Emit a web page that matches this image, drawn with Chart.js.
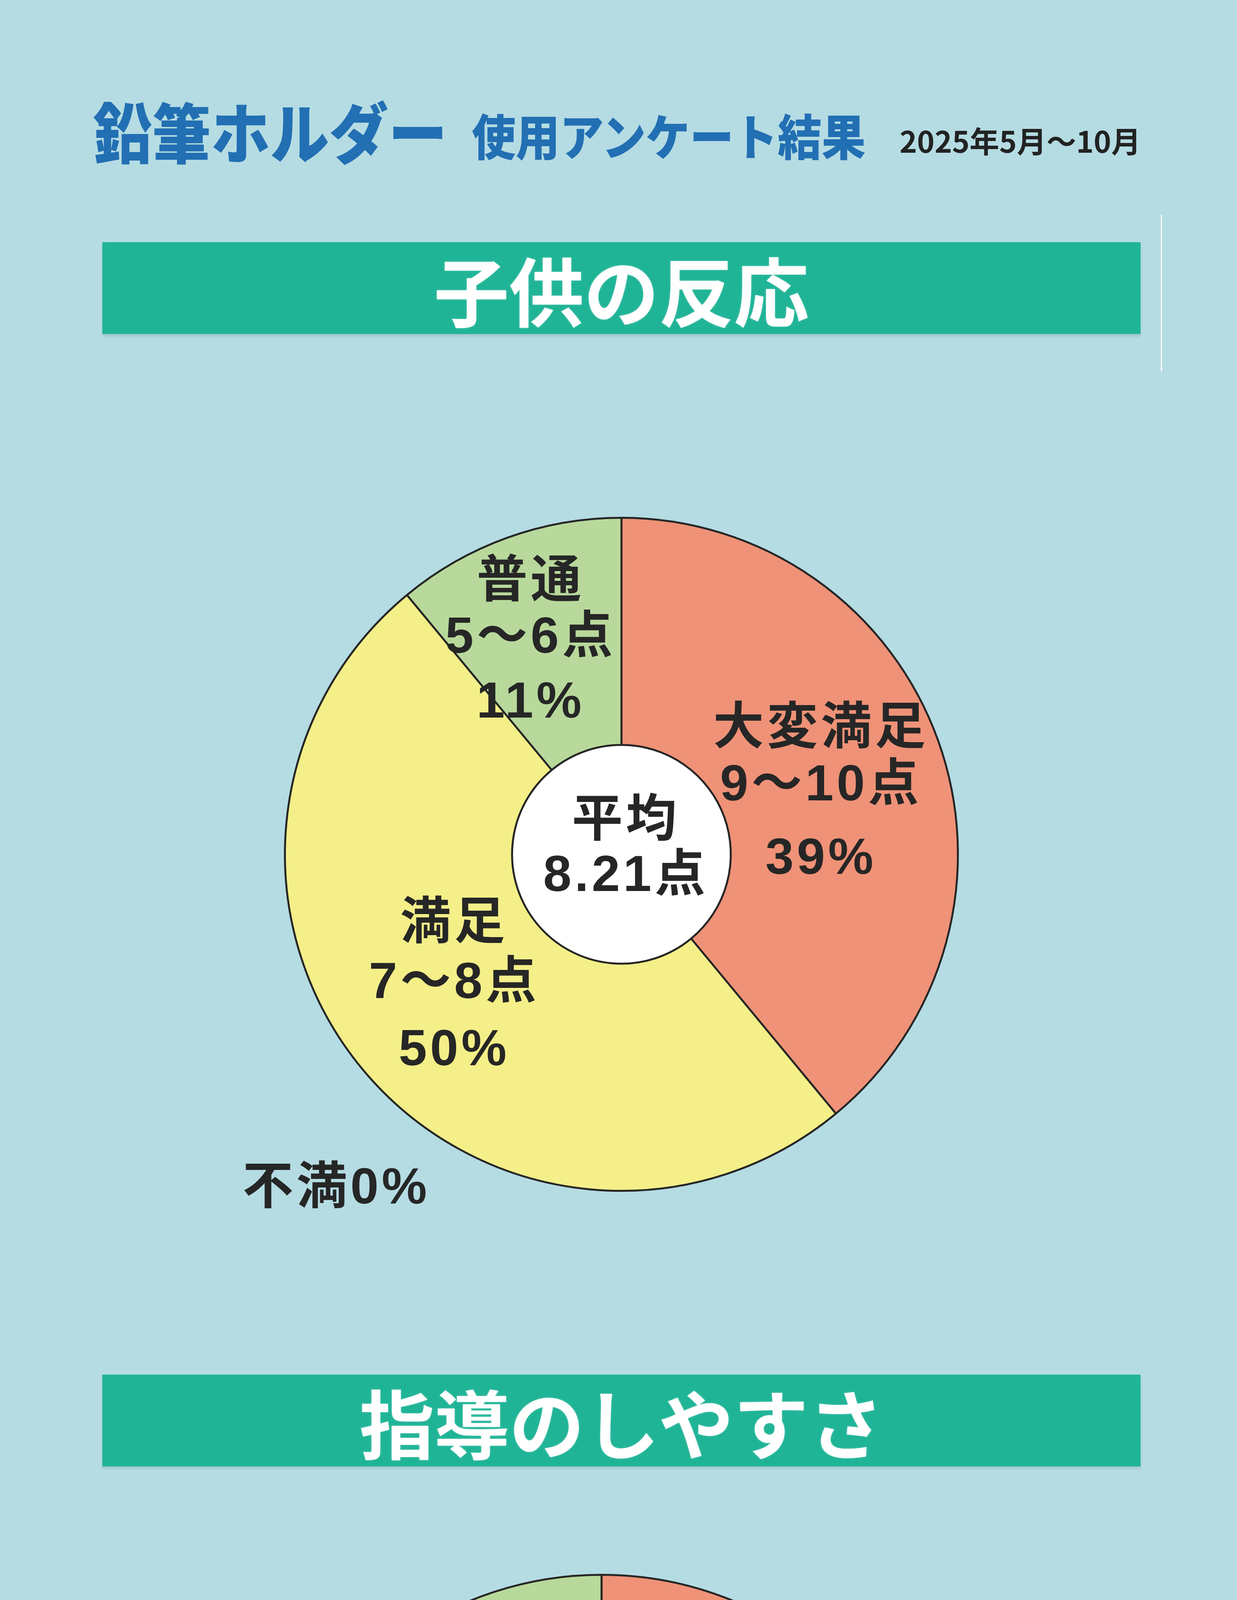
<!DOCTYPE html>
<html lang="ja">
<head>
<meta charset="utf-8">
<title>鉛筆ホルダー 使用アンケート結果</title>
<script src="https://cdn.jsdelivr.net/npm/chart.js@4.4.1/dist/chart.umd.min.js"></script>
<style>
  html, body { margin: 0; padding: 0; }
  body {
    width: 3167px; height: 6250px; position: relative; overflow: hidden;
    background: #b5dce3;
    font-family: "Noto Sans CJK JP", "Noto Sans", sans-serif;
    font-weight: 700;
  }
  .abs { position: absolute; white-space: nowrap; line-height: 1; }
  .title-main { left: 238px; top: 248px; font-size: 168px; font-weight: 900; color: #226fb3; transform: scaleX(0.9); transform-origin: left top; }
  .title-sub  { left: 1208px; top: 281px; font-size: 125px; font-weight: 900; color: #226fb3; transform: scaleX(0.9); transform-origin: left top; }
  .title-date { left: 2303px; top: 320px; font-size: 76px; color: #222; }
  .banner {
    position: absolute; left: 262px; width: 2658px; height: 235px;
    background: #20b497; color: #fff; font-size: 192px;
    display: flex; align-items: center; justify-content: center;
    box-shadow: 0 6px 6px rgba(0,0,0,0.10);
    text-shadow: 0 0 4px rgba(255,255,255,0.35);
  }
  .vline { position: absolute; left: 2972px; top: 550px; width: 3px; height: 400px; background: #fff; }
  .chart-box { position: absolute; }
</style>
</head>
<body>
<div class="abs title-main">鉛筆ホルダー</div>
<div class="abs title-sub">使用アンケート結果</div>
<div class="abs title-date">2025年5月～10月</div>

<div class="banner" id="banner1" style="top:620px;"></div>
<div class="vline"></div>
<div class="chart-box" style="left:391px; top:1087px;">
  <canvas id="chartChild" width="2400" height="2200"></canvas>
</div>

<div class="banner" id="banner2" style="top:3519px;"></div>
<div class="chart-box" style="left:240px; top:3817px;">
  <canvas id="chartTeacher" width="2600" height="2200"></canvas>
</div>

<script>
// アンケートの区分（時計回り、12時から）
const categories   = ['大変満足', '満足', '普通', '不満'];
const scoreRanges  = ['9～10点', '7～8点', '5～6点', ''];
const childValues   = [39, 50, 11, 0];
const teacherValues = [54, 36, 10, 0];
const chartTitles  = ['子供の反応', '指導のしやすさ'];
const averages     = ['8.21', '8.47'];

const sliceColors = ['#ef9277', '#f4ef88', '#b8d99b', '#888888'];
const inkColor = '#262626';
const labelFont = '700 130px "Liberation Sans", "Noto Sans CJK JP", sans-serif';

// ラベル位置（外半径に対する比率）
const childLayout = {
  slices: [
    { fx: 0.593,  fy: [-0.370, -0.202, 0.016] },
    { fx: -0.497, fy: [0.209, 0.385, 0.585] },
    { fx: -0.270, fy: [-0.806, -0.640, -0.448] },
    { fx: -1.126, fy: [0.996], align: 'left' }
  ],
  center: { fx: 0.013, fy: [-0.096, 0.068] }
};
const teacherLayout = {
  slices: [
    { fx: 0.641,  fy: [-0.055, 0.112, 0.336] },
    { fx: -0.618, fy: [-0.055, 0.112, 0.344] },
    { fx: -0.255, fy: [-0.809, -0.646, -0.458] },
    { fx: 0.805,  fy: [0.977], align: 'left' }
  ],
  center: { fx: 0.006, fy: [-0.094, 0.076] }
};

document.getElementById('banner1').textContent = chartTitles[0];
document.getElementById('banner2').textContent = chartTitles[1];

// 中央の白い円
const holePlugin = {
  id: 'hole',
  beforeDatasetsDraw(chart) {
    const arc = chart.getDatasetMeta(0).data[0];
    if (!arc) return;
    const ctx = chart.ctx;
    ctx.save();
    ctx.beginPath();
    ctx.arc(arc.x, arc.y, arc.innerRadius, 0, Math.PI * 2);
    ctx.fillStyle = '#ffffff';
    ctx.fill();
    ctx.restore();
  }
};

// スライスと中央のテキスト
const labelPlugin = {
  id: 'sliceLabels',
  afterDatasetsDraw(chart, args, opts) {
    const meta = chart.getDatasetMeta(0);
    const arc = meta.data[0];
    const R = arc.outerRadius;
    const values = chart.data.datasets[0].data;
    const ctx = chart.ctx;
    ctx.save();
    ctx.fillStyle = inkColor;
    ctx.font = labelFont;
    ctx.letterSpacing = '8px';
    ctx.textBaseline = 'middle';

    opts.layout.slices.forEach((pos, i) => {
      let lines;
      if (values[i] === 0) {
        lines = [categories[i] + values[i] + '%'];
      } else {
        lines = [categories[i], scoreRanges[i], values[i] + '%'];
      }
      ctx.textAlign = pos.align || 'center';
      lines.forEach((txt, k) => {
        ctx.fillText(txt, arc.x + pos.fx * R, arc.y + pos.fy[k] * R);
      });
    });

    const c = opts.layout.center;
    ctx.textAlign = 'center';
    ctx.fillText('平均', arc.x + c.fx * R, arc.y + c.fy[0] * R);
    ctx.fillText(opts.average + '点', arc.x + c.fx * R, arc.y + c.fy[1] * R);
    ctx.restore();
  }
};

function makePie(canvasId, values, average, layout, padding) {
  const ctx = document.getElementById(canvasId).getContext('2d');
  return new Chart(ctx, {
    type: 'doughnut',
    data: {
      labels: categories,
      datasets: [{
        data: values,
        backgroundColor: sliceColors,
        borderColor: '#262626',
        borderWidth: c => (c.raw === 0 ? 0 : 5),
        hoverOffset: 0
      }]
    },
    options: {
      responsive: false,
      animation: false,
      devicePixelRatio: 1,
      cutout: '32.5%',
      rotation: 0,
      layout: { padding: padding },
      plugins: {
        legend: { display: false },
        tooltip: { enabled: false },
        sliceLabels: { layout: layout, average: average }
      }
    },
    plugins: [holePlugin, labelPlugin]
  });
}

makePie('chartChild', childValues, averages[0], childLayout,
  { top: 236, bottom: 236, left: 336, right: 336 });
makePie('chartTeacher', teacherValues, averages[1], teacherLayout,
  { top: 212, bottom: 212, left: 412, right: 412 });
</script>
</body>
</html>
